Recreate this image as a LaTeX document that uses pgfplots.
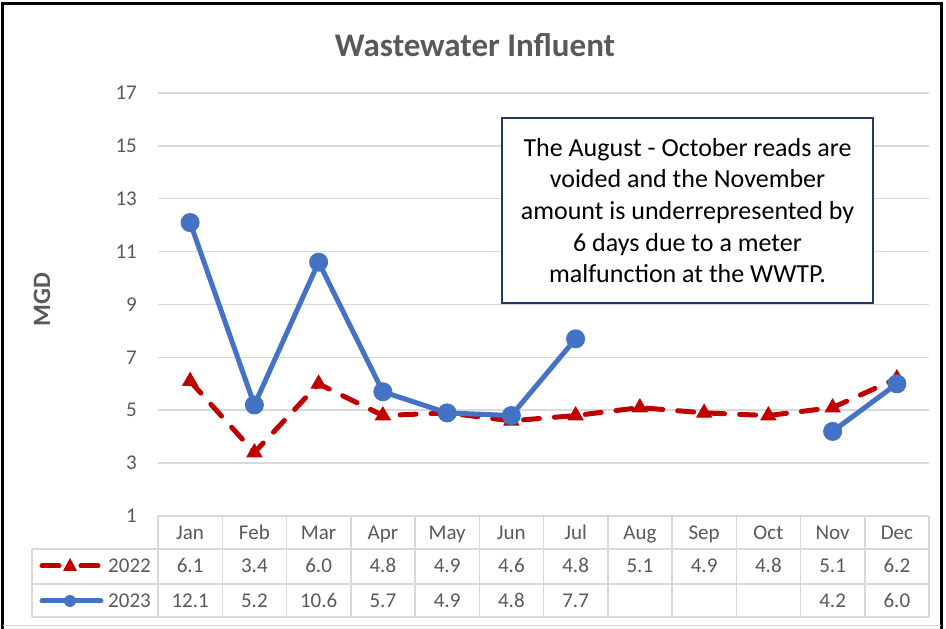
\documentclass[border=0pt]{standalone}
\usepackage{fontspec}
\setmainfont{Carlito}
\usepackage{pgfplots}
\usepackage{pgfplotstable}
\pgfplotsset{compat=1.18}
\definecolor{txtgray}{HTML}{595959}
\definecolor{gridgray}{HTML}{D9D9D9}
\definecolor{red22}{HTML}{C00000}
\definecolor{blue23}{HTML}{4472C4}
\definecolor{boxnavy}{HTML}{1F3864}

% month index, 2022, 2023 (MGD)
\pgfplotstableread{
m v22 v23
0 6.1 12.1
1 3.4 5.2
2 6.0 10.6
3 4.8 5.7
4 4.9 4.9
5 4.6 4.8
6 4.8 7.7
7 5.1 nan
8 4.9 nan
9 4.8 nan
10 5.1 4.2
11 6.2 6.0
}\influent

\newcommand{\tabfont}{\fontsize{21}{24}\selectfont}
\tikzset{cell/.style={font=\tabfont, text=txtgray, anchor=base, inner sep=0pt}}

\begin{document}
\begin{tikzpicture}
\useasboundingbox (-158pt,-113pt) rectangle (788pt,516pt);

% outer frame
\draw[black, line width=3pt] (-155pt,-125pt) -- (-155pt,512pt) -- (783pt,512pt) -- (783pt,-125pt);
\draw[gridgray, line width=1pt] (-155pt,-110pt) -- (783pt,-110pt);

\begin{axis}[
  at={(0pt,0pt)}, anchor=south west,
  scale only axis, width=771pt, height=423pt,
  xmin=-0.5, xmax=11.5, ymin=1, ymax=17,
  ytick={1,3,...,17}, xtick=\empty,
  ymajorgrids, grid style={gridgray, line width=1.5pt},
  axis line style={draw=none},
  major tick length=0pt,
  yticklabel style={font=\tabfont, text=txtgray, inner sep=0pt, xshift=-21pt},
  /pgf/number format/assume math mode=true,
  unbounded coords=jump,
  clip=false,
]
  \addplot[red22, line width=5pt, dash pattern=on 16pt off 15pt, line cap=round,
    mark=triangle*, mark size=8.5pt,
    mark options={solid, fill=red22, line width=1pt}]
    table[x=m, y=v22]{\influent};
  \addplot[blue23, line width=5pt, line cap=round, line join=round,
    mark=*, mark size=9pt,
    mark options={solid, fill=blue23, draw=blue23, line width=1pt}]
    table[x=m, y=v23]{\influent};
\end{axis}

% title and y label
\node[font=\fontsize{33}{36}\selectfont\bfseries, text=txtgray] at (317pt,471pt) {Wastewater Influent};
\node[font=\fontsize{25}{28}\selectfont\bfseries, text=txtgray, rotate=90] at (-116pt,216pt) {MGD};

% note box
\node[draw=boxnavy, line width=2pt, fill=white, minimum width=371pt, minimum height=185pt,
  align=center, font=\fontsize{26}{31.7}\selectfont, text=black]
  at (529.5pt,305.5pt) {The August - October reads are\\voided and the November\\amount is underrepresented by\\6 days due to a meter\\malfunction at the WWTP.};

% data table grid
\foreach \k in {0,...,12}
  \draw[gridgray, line width=1.5pt] ({64.25pt*\k},0pt) -- ({64.25pt*\k},-101pt);
\foreach \yy in {-33,-68,-101}
  \draw[gridgray, line width=1.5pt] (-126pt,\yy pt) -- (771pt,\yy pt);
\draw[gridgray, line width=1.5pt] (-126pt,-33pt) -- (-126pt,-101pt);

% header
\foreach \mo [count=\i from 0] in {Jan,Feb,Mar,Apr,May,Jun,Jul,Aug,Sep,Oct,Nov,Dec}
  \node[cell] at ({32.125pt+64.25pt*\i},-24pt) {\mo};
% 2022 row
\foreach \v [count=\i from 0] in {6.1,3.4,6.0,4.8,4.9,4.6,4.8,5.1,4.9,4.8,5.1,6.2}
  \node[cell] at ({32.125pt+64.25pt*\i},-57pt) {\v};
% 2023 row
\foreach \v [count=\i from 0] in {12.1,5.2,10.6,5.7,4.9,4.8,7.7,{},{},{},4.2,6.0}
  \node[cell] at ({32.125pt+64.25pt*\i},-92pt) {\v};

% legend keys
\draw[red22, line width=5pt, line cap=round] (-116pt,-50pt) -- (-99pt,-50pt);
\draw[red22, line width=5pt, line cap=round] (-77pt,-50pt) -- (-60pt,-50pt);
\fill[red22] (-88pt,-42pt) -- (-95pt,-55pt) -- (-81pt,-55pt) -- cycle;
\node[cell, anchor=base east] at (-7pt,-57pt) {2022};
\draw[blue23, line width=5pt, line cap=round] (-116pt,-85pt) -- (-57pt,-85pt);
\fill[blue23] (-88pt,-85pt) circle (6pt);
\node[cell, anchor=base east] at (-7pt,-92pt) {2023};
\end{tikzpicture}
\end{document}
